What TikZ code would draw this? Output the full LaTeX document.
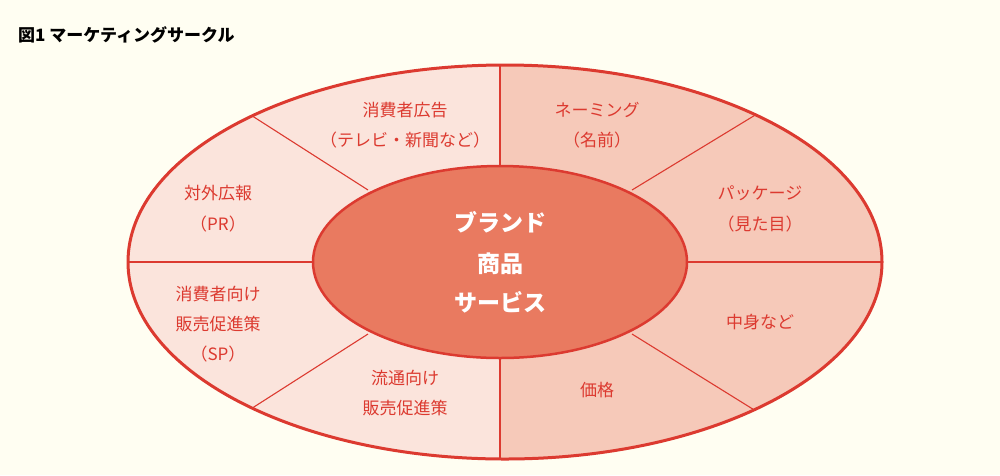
\documentclass[tikz,border=0pt]{standalone}
\usepackage{fontspec}
\setmainfont{Noto Sans CJK JP}
\begin{document}
\begin{tikzpicture}[x=1pt,y=-1pt]
\definecolor{bg}{HTML}{FFFEF2}
\definecolor{lpink}{HTML}{FBE4DC}
\definecolor{dpink}{HTML}{F6C9B9}
\definecolor{core}{HTML}{E97A60}
\definecolor{rline}{HTML}{DC3A30}
\tikzset{lab/.style={text=rline,font=\fontsize{17}{17}\selectfont,inner sep=0pt},
 inn/.style={text=white,font=\bfseries\fontsize{23}{23}\selectfont,inner sep=0pt},
 div/.style={draw=rline,line width=1.1pt}}
\fill[bg] (0,0) rectangle (1000,475);
\useasboundingbox (0,0) rectangle (1000,475);
\node[anchor=west,font=\bfseries\fontsize{17}{17}\selectfont,inner sep=0pt] (title) at (18,35) {図1\ マーケティングサークル};
\begin{scope}
\clip (505,262) ellipse [x radius=378,y radius=198];
\fill[lpink] (100,40) rectangle (500,470);
\fill[dpink] (500,40) rectangle (900,470);
\draw[div] (500,40) -- (500,470);
\draw[div] (232,103) -- (368,190);
\draw[div] (100,262) -- (330,262);
\draw[div] (232,421) -- (368,334);
\draw[div] (775,103) -- (632,190);
\draw[div] (900,262) -- (670,262);
\draw[div] (772,421) -- (632,334);
\end{scope}
\draw[rline,line width=3pt] (505,262) ellipse [x radius=377,y radius=197];
\draw[rline,line width=2.5pt,fill=core] (500,262) ellipse [x radius=187,y radius=96];
\node[lab] (a1) at (405,110) {消費者広告};
\node[lab] (a2) at (405,140) {（テレビ・新聞など）};
\node[lab] (b1) at (597,110) {ネーミング};
\node[lab] (b2) at (597,140) {（名前）};
\node[lab] (c1) at (218,193) {対外広報};
\node[lab] (c2) at (218,224) {（PR）};
\node[lab] (d1) at (760,193) {パッケージ};
\node[lab] (d2) at (760,224) {（見た目）};
\node[lab] (e1) at (218,294) {消費者向け};
\node[lab] (e2) at (218,324) {販売促進策};
\node[lab] (e3) at (218,354) {（SP）};
\node[lab] (f1) at (760,322) {中身など};
\node[lab] (g1) at (405,378) {流通向け};
\node[lab] (g2) at (405,408) {販売促進策};
\node[lab] (h1) at (597,390) {価格};
\node[inn] (i1) at (500,222) {ブランド};
\node[inn] (i2) at (500,264) {商品};
\node[inn] (i3) at (500,302) {サービス};
\end{tikzpicture}
\end{document}
